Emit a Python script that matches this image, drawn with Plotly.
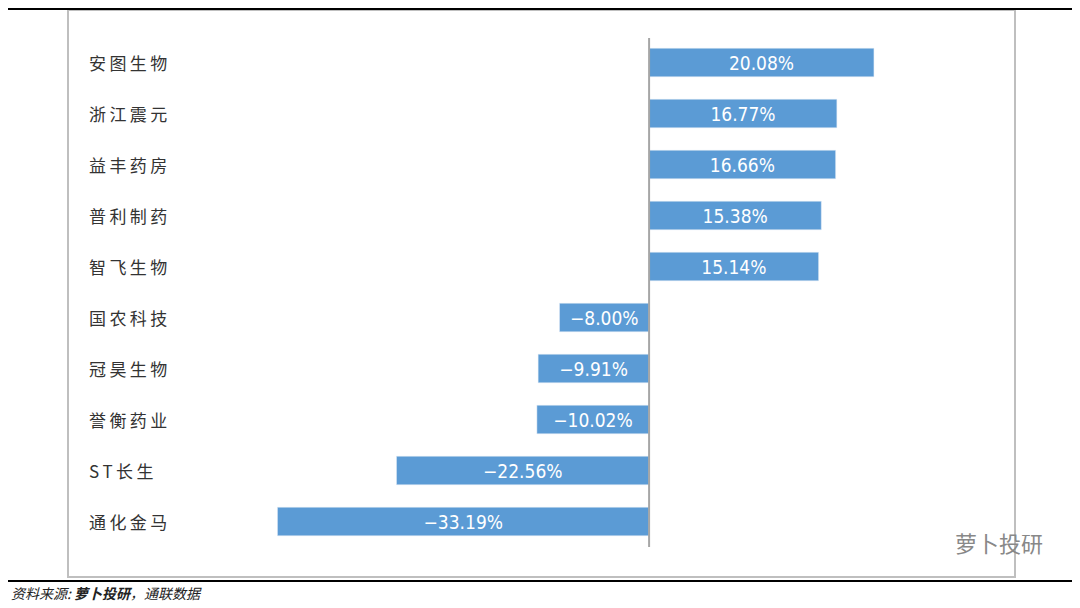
import plotly.graph_objects as go

cats = ["安图生物","浙江震元","益丰药房","普利制药","智飞生物","国农科技","冠昊生物","誉衡药业","ST长生","通化金马"]
vals = [20.08,16.77,16.66,15.38,15.14,-8.00,-9.91,-10.02,-22.56,-33.19]
O=8
W,H=1080-O,608-O
L,R,T,B=246-O,95,37-O,61
fig=go.Figure(go.Bar(y=cats,x=vals,orientation="h",marker_color="#5B9BD5",width=0.56,
    text=[f"{v:.2f}%".replace("-","−") for v in vals],textposition="inside",insidetextanchor="middle",
    textfont=dict(color="white",size=19,family="DejaVu Sans Condensed, Noto Sans CJK SC"),cliponaxis=False))
pw=W-L-R
def px(x): return (x-O-L)/pw
def py(y): return 1-(y-O-T)/(H-T-B)
for c in cats:
    fig.add_annotation(x=px(87),xref="paper",y=c,yref="y",text="\u2009".join(c),
        showarrow=False,xanchor="left",font=dict(size=17,color="#333",family="Noto Sans CJK SC"))
fig.add_shape(type="line",xref="x",yref="paper",x0=0,x1=0,y0=py(38),y1=py(547),line=dict(color="#A6A6A6",width=2))
fig.add_shape(type="rect",xref="paper",yref="paper",x0=px(68),x1=px(1015),y0=py(10),y1=py(577),line=dict(color="#BFBFBF",width=2))
fig.add_shape(type="line",xref="paper",yref="paper",x0=px(8),x1=px(1080),y0=py(9),y1=py(9),line=dict(color="black",width=2))
fig.add_shape(type="line",xref="paper",yref="paper",x0=px(8),x1=px(1080),y0=py(581),y1=py(581),line=dict(color="black",width=2))
fig.add_annotation(xref="paper",yref="paper",x=px(9),y=py(605),yanchor="bottom",text="<i>资料来源: <b>萝卜投研</b>，通联数据</i>",
    showarrow=False,xanchor="left",font=dict(size=14,color="#222",family="Noto Sans CJK SC"))
fig.add_annotation(xref="paper",yref="paper",x=px(1045),y=py(560),text="萝卜投研",
    showarrow=False,xanchor="right",font=dict(size=22,color="#888",family="Noto Sans CJK SC"))
fig.update_layout(width=W,height=H,margin=dict(l=L,r=R,t=T,b=B),plot_bgcolor="white",paper_bgcolor="white",
    showlegend=False,
    xaxis=dict(range=[-36,30],visible=False),
    yaxis=dict(autorange=False,visible=False,range=[9.5,-0.5]))
fig.write_html("out.html")
